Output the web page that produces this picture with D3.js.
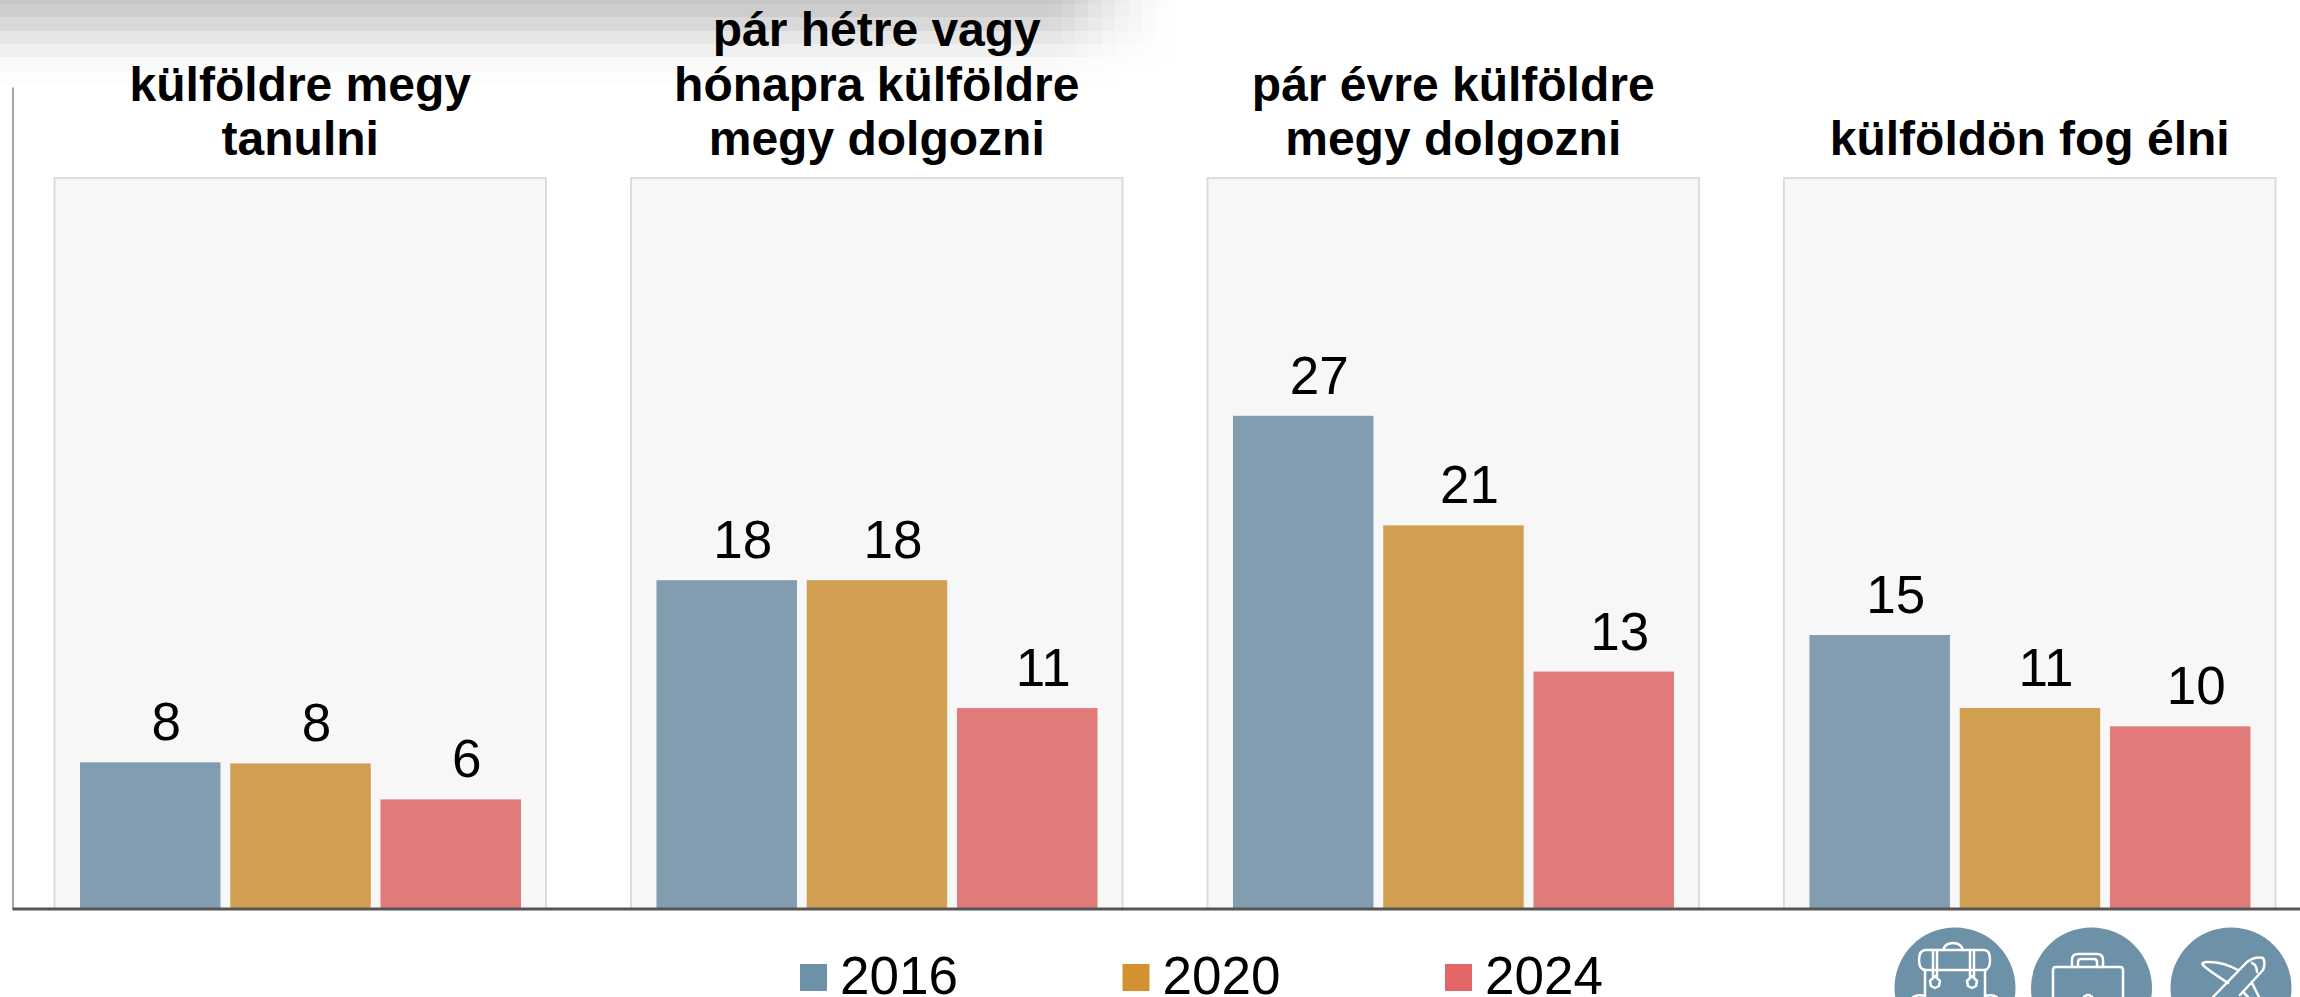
<!DOCTYPE html>
<html>
<head>
  <meta charset="utf-8">
  <title>Külföldi tervek</title>
  <style>
    html, body { margin: 0; padding: 0; background: #fff; overflow: hidden; }
    svg { display: block; }
    text { font-family: "Liberation Sans", Arial, sans-serif; fill: #000; }
  </style>
</head>
<body>
  <div id="chart"></div>

  <script src="https://d3js.org/d3.v7.min.js"></script>
  <script>
    // Data
    const categories = [
      ["külföldre megy", "tanulni"],
      ["pár hétre vagy", "hónapra külföldre", "megy dolgozni"],
      ["pár évre külföldre", "megy dolgozni"],
      ["külföldön fog élni"]
    ];
    const years = ["2016", "2020", "2024"];
    const values2016 = [8.03, 18, 27, 15];
    const values2020 = [7.97, 18, 21, 11];
    const values2024 = [6, 11, 13, 10];
    const series = [values2016, values2020, values2024];

    const barColors = ["#829db0", "#d09f52", "#e07b7a"];
    const legendColors = ["#6d91a6", "#d29232", "#e36666"];

    const width = 2300, height = 997;

    const svg = d3.select("#chart")
      .append("svg")
      .attr("width", width)
      .attr("height", height)
      .attr("viewBox", [0, 0, width, height]);

    // Stepped grey shadow along the top edge
    const shadowRowEdges = [0, 4, 17, 31, 44, 57, 71, 84];
    const shadowRowAlpha = [0.225, 0.195, 0.15, 0.098, 0.058, 0.02, 0.006];
    const shadowColEdges = [0, 1049, 1062, 1075, 1088, 1102, 1115, 1129, 1142, 1156, 1169];
    const shadowColFade = [1, 0.95, 0.85, 0.7, 0.55, 0.42, 0.3, 0.2, 0.12, 0.05];

    const shadow = svg.append("g");
    shadowRowAlpha.forEach((a, r) => {
      shadowColFade.forEach((f, c) => {
        shadow.append("rect")
          .attr("x", shadowColEdges[c])
          .attr("y", shadowRowEdges[r])
          .attr("width", shadowColEdges[c + 1] - shadowColEdges[c])
          .attr("height", shadowRowEdges[r + 1] - shadowRowEdges[r])
          .attr("fill", "#000")
          .attr("fill-opacity", a * f);
      });
    });

    // Scales
    const idx = categories.map((d, i) => i);
    const x0 = d3.scaleBand().domain(idx).range([54, 2276]).paddingInner(0.1456);
    const x1 = d3.scaleBand().domain(years).range([26, 467]).paddingInner(0.065);
    const y = d3.scaleLinear().domain([0, 45]).range([909, 87]);

    // Panels
    const groups = svg.selectAll("g.panel")
      .data(idx)
      .enter()
      .append("g")
      .attr("class", "panel")
      .attr("transform", d => `translate(${x0(d)},0)`);

    groups.append("rect")
      .attr("x", 0.5)
      .attr("y", 178)
      .attr("width", x0.bandwidth() - 1)
      .attr("height", y(0) - 178)
      .attr("fill", "#f7f7f7")
      .attr("stroke", "#dcdcdc")
      .attr("stroke-width", 2);

    // Bars
    years.forEach((yr, s) => {
      groups.append("rect")
        .attr("x", x1(yr))
        .attr("y", d => y(series[s][d]))
        .attr("width", x1.bandwidth())
        .attr("height", d => y(0) - y(series[s][d]))
        .attr("fill", barColors[s]);

      groups.append("text")
        .attr("x", x1(yr) + x1.bandwidth() / 2 + 16)
        .attr("y", d => y(series[s][d]) - 22)
        .attr("text-anchor", "middle")
        .attr("font-size", 53)
        .text(d => Math.round(series[s][d]));
    });

    // Panel titles, bottom line sits at a fixed baseline
    groups.each(function(d) {
      const lines = categories[d];
      d3.select(this).selectAll("text.title")
        .data(lines)
        .enter()
        .append("text")
        .attr("class", "title")
        .attr("x", x0.bandwidth() / 2)
        .attr("y", (l, i) => 155 - (lines.length - 1 - i) * 54.5)
        .attr("text-anchor", "middle")
        .attr("font-size", 48)
        .attr("font-weight", "bold")
        .text(l => l);
    });

    // Axes, no ticks
    const axisLeft = svg.append("g")
      .attr("transform", "translate(12.5,0)")
      .call(d3.axisLeft(y).tickValues([]).tickSize(0));
    axisLeft.select(".domain").attr("stroke", "#888").attr("stroke-width", 1.5);

    const xLine = d3.scaleLinear().domain([0, 1]).range([12, width]);
    const axisBottom = svg.append("g")
      .attr("transform", `translate(0,${y(0) - 0.5})`)
      .call(d3.axisBottom(xLine).tickValues([]).tickSize(0));
    axisBottom.select(".domain").attr("stroke", "#555").attr("stroke-width", 3);

    // Legend
    const legendX = d3.scalePoint().domain(years).range([800, 1445]);
    const legend = svg.selectAll("g.legend")
      .data(years)
      .enter()
      .append("g")
      .attr("class", "legend")
      .attr("transform", d => `translate(${legendX(d)},0)`);

    legend.append("rect")
      .attr("y", 964)
      .attr("width", 27)
      .attr("height", 27)
      .attr("fill", (d, i) => legendColors[i]);

    legend.append("text")
      .attr("x", 40)
      .attr("y", 994)
      .attr("font-size", 53)
      .text(d => d);

    // Icons at the bottom right, clipped by the page edge
    const iconCircles = [1955, 2091.5, 2231];
    svg.selectAll("circle.icon")
      .data(iconCircles)
      .enter()
      .append("circle")
      .attr("class", "icon")
      .attr("cx", d => d)
      .attr("cy", 988)
      .attr("r", 60.5)
      .attr("fill", "#6d91a6");

    const iconPaths = [
      // backpack
      "M1926 950 H1984 Q1990 950 1990 960 Q1990 970 1984 970 H1926 Q1919 970 1919 960 Q1919 950 1926 950 Z",
      "M1943 950 Q1945 943 1953 943 Q1961 943 1963 950",
      "M1933 950 V976 M1937 950 V976 M1970 950 V976 M1974 950 V976",
      "M1930 981 L1935 976 L1940 981 L1939 986 L1935 988 L1931 986 Z",
      "M1967 981 L1972 976 L1977 981 L1976 986 L1972 988 L1968 986 Z",
      "M1925 970 V997 M1985 970 V997 M1925 996 Q1918 994 1913 997 M1985 996 Q1992 994 1997 997",
      // briefcase
      "M2056 967 H2120 Q2123 967 2123 970 V997 M2053 997 V970 Q2053 967 2056 967",
      "M2072 967 V960 Q2072 954 2078 954 H2097 Q2103 954 2103 960 V967",
      "M2078 967 V962 Q2078 959 2081 959 H2094 Q2097 959 2097 962 V967",
      "M2084 997 Q2088 993 2092 997",
      // plane
      "M2213 997 L2247 962 Q2255 956 2263 958 Q2266 963 2263 970 L2240 995",
      "M2238 970 Q2222 961 2206 962 Q2201 963 2203 965 Q2205 968 2228 983",
      "M2252 983 L2259 997 M2243 992 L2248 997",
      "M2252 963 Q2257 965 2257 972"
    ];
    svg.selectAll("path.icon-line")
      .data(iconPaths)
      .enter()
      .append("path")
      .attr("class", "icon-line")
      .attr("d", d => d)
      .attr("fill", "none")
      .attr("stroke", "#fff")
      .attr("stroke-width", 2.5)
      .attr("stroke-linejoin", "round")
      .attr("stroke-linecap", "round");
  </script>
</body>
</html>
